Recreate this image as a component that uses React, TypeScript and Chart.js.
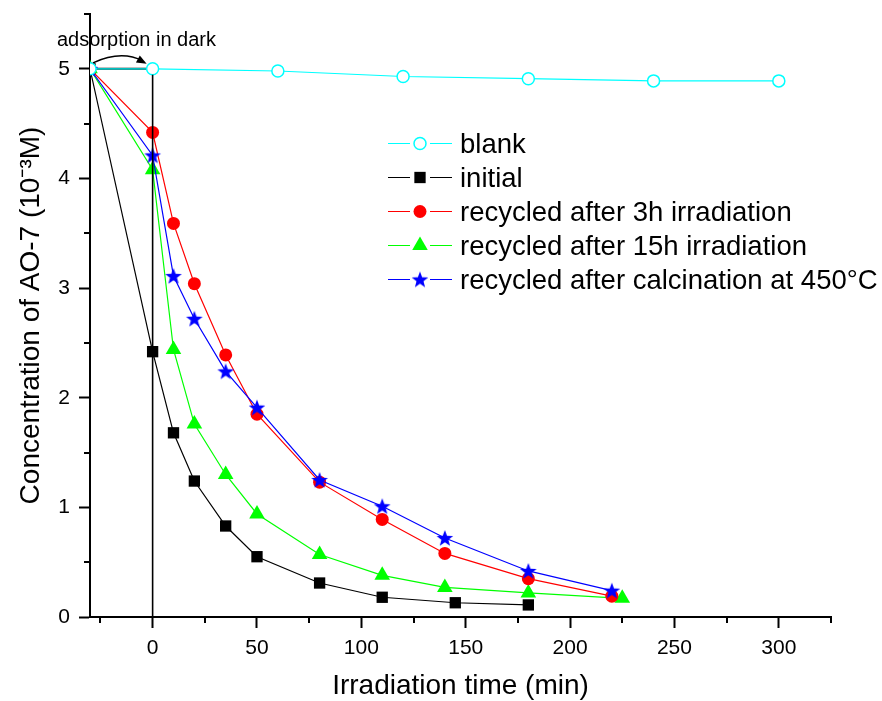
import React, { useEffect, useRef } from 'react';
import { Chart, registerables } from 'chart.js';

Chart.register(...registerables);

// ---- data ----
const blankX = [-30, 0, 60, 120, 180, 240, 300];
const blankY = [5, 5.0, 4.98, 4.93, 4.91, 4.89, 4.89];
const initialX = [-30, 0, 10, 20, 35, 50, 80, 110, 145, 180];
const initialY = [5, 2.42, 1.68, 1.24, 0.83, 0.55, 0.31, 0.18, 0.13, 0.11];
const rec3hX = [-30, 0, 10, 20, 35, 50, 80, 110, 140, 180, 220];
const rec3hY = [5, 4.42, 3.59, 3.04, 2.39, 1.85, 1.23, 0.89, 0.58, 0.35, 0.19];
const rec15hX = [-30, 0, 10, 20, 35, 50, 80, 110, 140, 180, 225];
const rec15hY = [5, 4.08, 2.44, 1.76, 1.3, 0.94, 0.57, 0.38, 0.27, 0.22, 0.17];
const calcX = [-30, 0, 10, 20, 35, 50, 80, 110, 140, 180, 220];
const calcY = [5, 4.21, 3.11, 2.72, 2.24, 1.91, 1.25, 1.01, 0.72, 0.42, 0.24];

const seriesLabels = [
  'blank',
  'initial',
  'recycled after 3h irradiation',
  'recycled after 15h irradiation',
  'recycled after calcination at 450°C',
];
const xMajorTicks = [0, 50, 100, 150, 200, 250, 300];
const xMinorTicks = [-25, 25, 75, 125, 175, 225, 275, 325];
const yMajorTicks = [0, 1, 2, 3, 4, 5];
const yMinorTicks = [0.5, 1.5, 2.5, 3.5, 4.5, 5.5];
const xRange = [-30, 325];
const yRange = [0, 5.5];
const darkStartX = -30;
const darkEndX = 0;
const darkLevel = 5;
const annotationText = 'adsorption in dark';
const xTitle = 'Irradiation time (min)';
const yTitle = 'Concentration of AO-7 (10\u207B\u00B3M)';

const FONT = "'Liberation Sans', Arial, Helvetica, sans-serif";

const toPoints = (xs: number[], ys: number[]) => xs.map((x, i) => ({ x, y: ys[i] }));

function makeStar(size: number, color: string): HTMLCanvasElement {
  const c = document.createElement('canvas');
  c.width = size;
  c.height = size;
  const g = c.getContext('2d')!;
  const cx = size / 2;
  const cy = size / 2 + 0.6;
  const R = size / 2 - 0.3;
  const r = R * 0.42;
  g.beginPath();
  for (let i = 0; i < 10; i++) {
    const a = -Math.PI / 2 + (i * Math.PI) / 5;
    const rr = i % 2 === 0 ? R : r;
    g.lineTo(cx + rr * Math.cos(a), cy + rr * Math.sin(a));
  }
  g.closePath();
  g.fillStyle = color;
  g.fill();
  return c;
}

function drawMarker(ctx: CanvasRenderingContext2D, ds: any, x: number, y: number) {
  const style = ds.pointStyle;
  const r = ds.pointRadius;
  ctx.save();
  if (typeof style !== 'string') {
    ctx.drawImage(style, x - style.width / 2, y - style.height / 2);
    ctx.restore();
    return;
  }
  ctx.beginPath();
  if (style === 'circle') {
    ctx.arc(x, y, r, 0, Math.PI * 2);
  } else if (style === 'rect') {
    const s = Math.SQRT1_2 * r;
    ctx.rect(x - s, y - s, 2 * s, 2 * s);
  } else if (style === 'triangle') {
    let a = 0;
    ctx.moveTo(x + Math.sin(a) * r, y - Math.cos(a) * r);
    a += (2 * Math.PI) / 3;
    ctx.lineTo(x + Math.sin(a) * r, y - Math.cos(a) * r);
    a += (2 * Math.PI) / 3;
    ctx.lineTo(x + Math.sin(a) * r, y - Math.cos(a) * r);
    ctx.closePath();
  }
  ctx.fillStyle = ds.pointBackgroundColor;
  ctx.fill();
  if (ds.pointBorderWidth > 0) {
    ctx.lineWidth = ds.pointBorderWidth;
    ctx.strokeStyle = ds.pointBorderColor;
    ctx.stroke();
  }
  ctx.restore();
}

const minorTicksPlugin = {
  id: 'minorTicks',
  afterDraw(chart: any) {
    const { ctx, scales, chartArea } = chart;
    ctx.save();
    ctx.strokeStyle = '#000';
    ctx.lineWidth = 2;
    ctx.beginPath();
    xMinorTicks.forEach((v) => {
      const px = Math.round(scales.x.getPixelForValue(v));
      ctx.moveTo(px, chartArea.bottom);
      ctx.lineTo(px, chartArea.bottom + 6);
    });
    yMinorTicks.forEach((v) => {
      const py = Math.round(scales.y.getPixelForValue(v));
      ctx.moveTo(chartArea.left, py);
      ctx.lineTo(chartArea.left - 6, py);
    });
    ctx.stroke();
    ctx.restore();
  },
};

const annotationPlugin = {
  id: 'darkAnnotation',
  beforeDatasetsDraw(chart: any) {
    const { ctx, scales } = chart;
    const x0 = scales.x.getPixelForValue(darkStartX);
    const x1 = scales.x.getPixelForValue(darkEndX);
    const y5 = scales.y.getPixelForValue(darkLevel);
    ctx.save();
    ctx.strokeStyle = '#000';
    ctx.lineWidth = 2;
    ctx.beginPath();
    ctx.moveTo(x0, y5);
    ctx.lineTo(x1, y5);
    ctx.stroke();
    ctx.restore();
  },
  afterDatasetsDraw(chart: any) {
    const { ctx, scales } = chart;
    const x0 = scales.x.getPixelForValue(darkStartX);
    const x1 = scales.x.getPixelForValue(darkEndX);
    const y5 = scales.y.getPixelForValue(darkLevel);
    const y0 = scales.y.getPixelForValue(0);
    ctx.save();
    ctx.strokeStyle = '#000';
    // vertical line at start of irradiation
    ctx.lineWidth = 1.6;
    ctx.beginPath();
    ctx.moveTo(x1, y5 + 6);
    ctx.lineTo(x1, y0);
    ctx.stroke();
    // curved arrow
    const sx = x0 + 3;
    const sy = y5 - 6;
    const cx = (x0 + x1) / 2;
    const cy = y5 - 19;
    const ex = x1 - 6;
    const ey = y5 - 5;
    ctx.lineWidth = 1.5;
    ctx.beginPath();
    ctx.moveTo(sx, sy);
    ctx.quadraticCurveTo(cx, cy, ex - 4, ey - 3);
    ctx.stroke();
    const ang = Math.atan2(ey - cy, ex - cx);
    const L = 10;
    const W = 4;
    ctx.beginPath();
    ctx.moveTo(ex, ey);
    ctx.lineTo(ex - L * Math.cos(ang) - W * Math.sin(ang), ey - L * Math.sin(ang) + W * Math.cos(ang));
    ctx.lineTo(ex - L * Math.cos(ang) + W * Math.sin(ang), ey - L * Math.sin(ang) - W * Math.cos(ang));
    ctx.closePath();
    ctx.fillStyle = '#000';
    ctx.fill();
    // text
    ctx.font = `20px ${FONT}`;
    ctx.fillStyle = '#000';
    ctx.textAlign = 'left';
    ctx.textBaseline = 'alphabetic';
    ctx.fillText(annotationText, x0 - 33, y5 - 23);
    ctx.restore();
  },
};

const legendPlugin = {
  id: 'customLegend',
  afterDraw(chart: any) {
    const { ctx } = chart;
    const left = 388;
    const firstBaseline = 153;
    const step = 34;
    ctx.save();
    ctx.font = `27.5px ${FONT}`;
    ctx.textAlign = 'left';
    ctx.textBaseline = 'alphabetic';
    chart.data.datasets.forEach((ds: any, i: number) => {
      const base = firstBaseline + i * step;
      const my = base - 9.5;
      ctx.strokeStyle = ds.borderColor;
      ctx.lineWidth = 1.2;
      ctx.beginPath();
      ctx.moveTo(left, my);
      ctx.lineTo(left + 22, my);
      ctx.moveTo(left + 42, my);
      ctx.lineTo(left + 64, my);
      ctx.stroke();
      drawMarker(ctx, ds, left + 32, my);
      ctx.fillStyle = '#000';
      ctx.fillText(ds.label, left + 72, base);
    });
    ctx.restore();
  },
};

export default function App() {
  const ref = useRef<HTMLCanvasElement>(null);
  useEffect(() => {
    document.body.style.margin = '0';
    Chart.defaults.font.family = FONT;
    const star = makeStar(18, '#0000FF');
    const common = { showLine: true, tension: 0, borderWidth: 1.2, fill: false };
    const chart = new Chart(ref.current!, {
      type: 'line',
      data: {
        datasets: [
          {
            ...common,
            label: seriesLabels[0],
            data: toPoints(blankX, blankY),
            borderColor: '#00FFFF',
            pointStyle: 'circle',
            pointRadius: 6,
            pointBorderWidth: 1.5,
            pointBorderColor: '#00FFFF',
            pointBackgroundColor: '#FFFFFF',
            order: 0,
          },
          {
            ...common,
            label: seriesLabels[1],
            data: toPoints(initialX, initialY),
            borderColor: '#000000',
            pointStyle: 'rect',
            pointRadius: 8,
            pointBorderWidth: 0,
            pointBorderColor: '#000000',
            pointBackgroundColor: '#000000',
            order: 4,
          },
          {
            ...common,
            label: seriesLabels[2],
            data: toPoints(rec3hX, rec3hY),
            borderColor: '#FF0000',
            pointStyle: 'circle',
            pointRadius: 6.5,
            pointBorderWidth: 0,
            pointBorderColor: '#FF0000',
            pointBackgroundColor: '#FF0000',
            order: 2,
          },
          {
            ...common,
            label: seriesLabels[3],
            data: toPoints(rec15hX, rec15hY),
            borderColor: '#00FF00',
            pointStyle: 'triangle',
            pointRadius: 9,
            pointBorderWidth: 0,
            pointBorderColor: '#00FF00',
            pointBackgroundColor: '#00FF00',
            order: 3,
          },
          {
            ...common,
            label: seriesLabels[4],
            data: toPoints(calcX, calcY),
            borderColor: '#0000FF',
            pointStyle: star,
            pointRadius: 8,
            pointBorderWidth: 0,
            pointBorderColor: '#0000FF',
            pointBackgroundColor: '#0000FF',
            order: 1,
          },
        ] as any,
      },
      options: {
        animation: false,
        responsive: false,
        events: [],
        layout: { padding: { left: 0, right: 51, top: 14, bottom: 0 } },
        plugins: { legend: { display: false }, tooltip: { enabled: false } },
        scales: {
          x: {
            type: 'linear',
            min: xRange[0],
            max: xRange[1],
            afterBuildTicks: (s: any) => {
              s.ticks = xMajorTicks.map((v) => ({ value: v }));
            },
            afterFit: (s: any) => {
              s.height = 84;
              s.paddingLeft = 0;
              s.paddingRight = 0;
              s.paddingTop = 0;
              s.paddingBottom = 0;
            },
            grid: { display: true, drawOnChartArea: false, drawTicks: true, tickLength: 11, tickWidth: 2, tickColor: '#000' },
            border: { display: true, color: '#000', width: 2 },
            ticks: { color: '#000', font: { size: 21 }, padding: 8, maxRotation: 0, autoSkip: false },
            title: { display: true, text: xTitle, color: '#000', font: { size: 28, lineHeight: 1 }, padding: { top: 0, bottom: 1 } },
          },
          y: {
            type: 'linear',
            min: yRange[0],
            max: yRange[1],
            afterBuildTicks: (s: any) => {
              s.ticks = yMajorTicks.map((v) => ({ value: v }));
            },
            afterFit: (s: any) => {
              s.width = 90;
              s.paddingLeft = 0;
              s.paddingRight = 0;
              s.paddingTop = 0;
              s.paddingBottom = 0;
            },
            grid: { display: true, drawOnChartArea: false, drawTicks: true, tickLength: 11, tickWidth: 2, tickColor: '#000' },
            border: { display: true, color: '#000', width: 2 },
            ticks: { color: '#000', font: { size: 21 }, padding: 9, autoSkip: false },
            title: { display: true, text: yTitle, color: '#000', font: { size: 28, lineHeight: 1 }, padding: { top: 17, bottom: 0 } },
          },
        },
      } as any,
      plugins: [minorTicksPlugin, annotationPlugin, legendPlugin],
    });
    return () => chart.destroy();
  }, []);
  return <canvas ref={ref} width={882} height={701} style={{ display: 'block' }} />;
}
